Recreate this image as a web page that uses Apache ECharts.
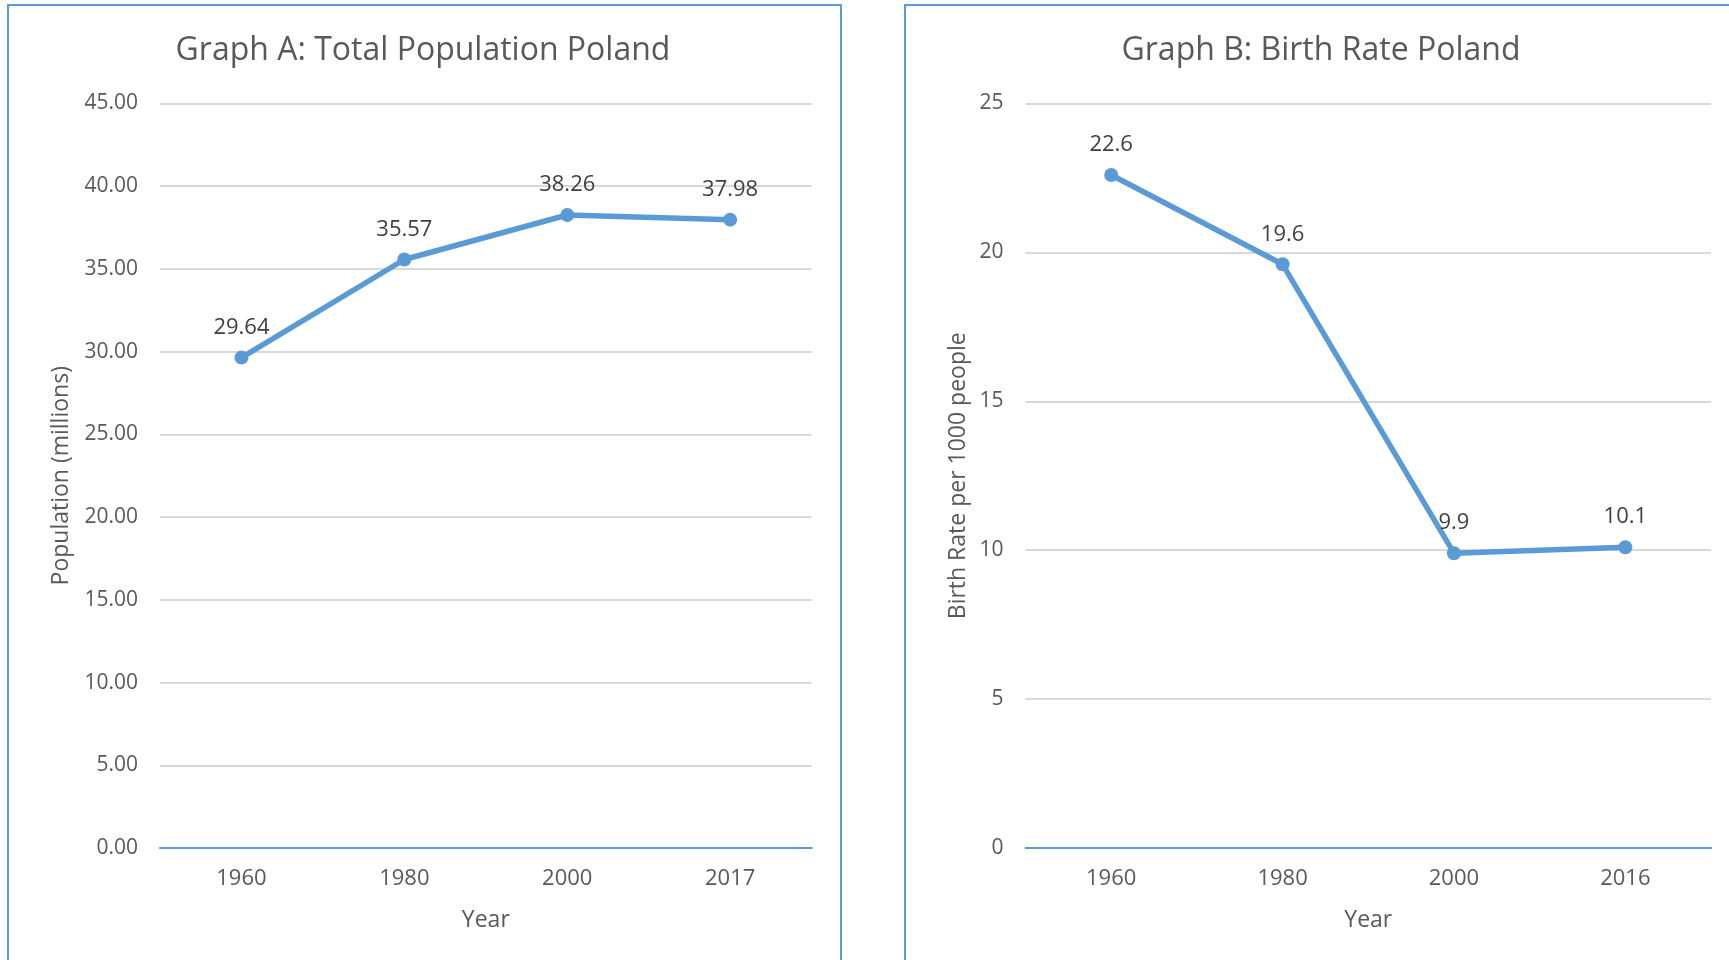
<!DOCTYPE html>
<html lang="en">
<head>
  <meta charset="UTF-8">
  <title>Poland population and birth rate</title>
  <style>
    html, body { margin: 0; padding: 0; background: #fff; }
    #chart { width: 1729px; height: 960px; }
  </style>
</head>
<body>
<div id="chart"></div>
<script src="https://cdn.jsdelivr.net/npm/echarts@6/dist/echarts.min.js"></script>
<script>
  const yearsA = ['1960', '1980', '2000', '2017'];
  const populationA = [29.64, 35.57, 38.26, 37.98];
  const yearsB = ['1960', '1980', '2000', '2016'];
  const birthRateB = [22.6, 19.6, 9.9, 10.1];

  const FONT = '"Open Sans", sans-serif';
  const BLUE = '#5B9BD5';
  const GREY = '#595959';

  function xAxisFor(idx, cats) {
    return {
      type: 'category',
      gridIndex: idx,
      data: cats,
      name: 'Year',
      nameLocation: 'middle',
      nameGap: 61,
      nameTextStyle: {color: GREY, fontSize: 23, fontFamily: FONT},
      axisTick: {show: false},
      axisLine: {lineStyle: {color: BLUE, width: 2}},
      axisLabel: {color: GREY, fontSize: 22, fontFamily: FONT, margin: 20}
    };
  }

  function yAxisFor(idx, max, name, gap, digits) {
    return {
      type: 'value',
      gridIndex: idx,
      min: 0,
      max: max,
      interval: 5,
      name: name,
      nameLocation: 'middle',
      nameGap: gap,
      nameTextStyle: {color: GREY, fontSize: 23, fontFamily: FONT},
      axisLine: {show: false},
      axisTick: {show: false},
      splitLine: {lineStyle: {color: '#D9D9D9', width: 2}},
      axisLabel: {
        color: GREY, fontSize: 21, fontFamily: FONT, margin: 22,
        formatter: (v) => v.toFixed(digits)
      }
    };
  }

  function lineFor(idx, values) {
    return {
      type: 'line',
      xAxisIndex: idx,
      yAxisIndex: idx,
      data: values,
      symbol: 'circle',
      symbolSize: 14,
      lineStyle: {color: BLUE, width: 5.5},
      itemStyle: {color: BLUE},
      label: {
        show: true,
        position: 'top',
        distance: 12,
        color: '#404040',
        fontSize: 22,
        fontFamily: FONT
      },
      animation: false
    };
  }

  const chart = echarts.init(document.getElementById('chart'));
  chart.setOption({
    animation: false,
    grid: [
      {left: 160, top: 103.5, width: 651.6, height: 744.5},
      {left: 1025.5, top: 103.5, width: 685.5, height: 744.5}
    ],
    xAxis: [xAxisFor(0, yearsA), xAxisFor(1, yearsB)],
    yAxis: [
      yAxisFor(0, 45, 'Population (millions)', 87, 2),
      yAxisFor(1, 25, 'Birth Rate per 1000 people', 56, 0)
    ],
    series: [lineFor(0, populationA), lineFor(1, birthRateB)],
    graphic: [
      {
        type: 'rect', silent: true,
        shape: {x: 8, y: 5, width: 833, height: 1000},
        style: {fill: 'none', stroke: BLUE, lineWidth: 2}
      },
      {
        type: 'rect', silent: true,
        shape: {x: 905, y: 5, width: 900, height: 1000},
        style: {fill: 'none', stroke: BLUE, lineWidth: 2}
      },
      {
        type: 'text', x: 423, y: 51,
        style: {
          text: 'Graph A: Total Population Poland', fill: GREY,
          font: '32px "Open Sans", sans-serif', align: 'center', verticalAlign: 'middle'
        }
      },
      {
        type: 'text', x: 1321, y: 51,
        style: {
          text: 'Graph B: Birth Rate Poland', fill: GREY,
          font: '32px "Open Sans", sans-serif', align: 'center', verticalAlign: 'middle'
        }
      }
    ]
  });
</script>
</body>
</html>
